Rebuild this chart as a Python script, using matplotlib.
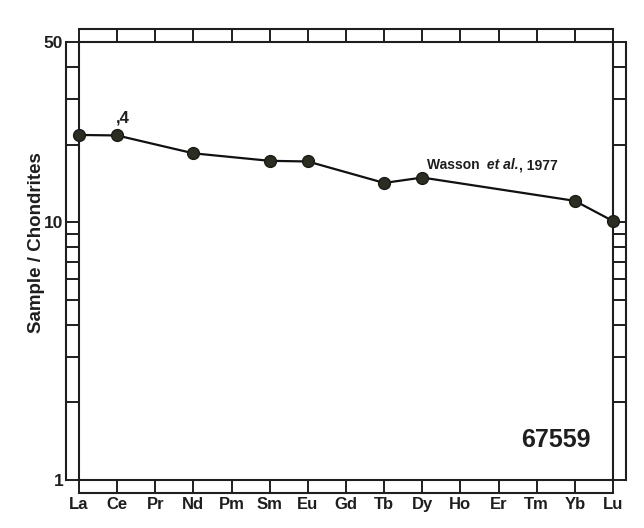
import numpy as np
import matplotlib
matplotlib.use('Agg')
import matplotlib.pyplot as plt
from matplotlib.lines import Line2D
from matplotlib.ticker import FixedLocator, NullFormatter

# REE pattern for 67559 (Wasson et al., 1977)
elements = ['La', 'Ce', 'Pr', 'Nd', 'Pm', 'Sm', 'Eu', 'Gd', 'Tb', 'Dy', 'Ho', 'Er', 'Tm', 'Yb', 'Lu']
meas_elements = ['La', 'Ce', 'Nd', 'Sm', 'Eu', 'Tb', 'Dy', 'Yb', 'Lu']
meas_values = [21.8, 21.7, 18.5, 17.3, 17.2, 14.2, 14.9, 12.1, 10.1]

major_y = [1, 10, 50]
minor_y = [2, 3, 4, 5, 6, 7, 8, 9, 20, 30, 40]

plt.rcParams['font.family'] = ['Liberation Sans', 'DejaVu Sans']
ink = '#1e1e1e'

W, H = 644, 528
fig = plt.figure(figsize=(W / 100, H / 100), dpi=100)
x0, x1, y0, y1 = 79, 613, 42, 480   # axes box in pixels (top-left origin)
ax = fig.add_axes([x0 / W, 1 - y1 / H, (x1 - x0) / W, (y1 - y0) / H])

xpos = [elements.index(e) for e in meas_elements]
ax.plot(xpos, meas_values, color='#111111', lw=1.6, marker='o', ms=8.5,
        mfc='#2b2d22', mec='#1a1a14', mew=1, clip_on=False, zorder=3)

ax.set_yscale('log')
ax.set_ylim(1, 50)
ax.set_xlim(0, len(elements) - 1)

strip = 13 * 72 / 100  # strip width in points
ax.set_xticks(range(len(elements)))
ax.set_xticklabels(elements, fontsize=12, fontweight='bold')
ax.yaxis.set_major_locator(FixedLocator(major_y))
ax.set_yticklabels([str(v) for v in major_y], fontsize=12.5, fontweight='bold')
ax.yaxis.set_minor_locator(FixedLocator(minor_y))
ax.yaxis.set_minor_formatter(NullFormatter())
ax.tick_params(axis='both', which='both', direction='out', length=strip, width=1.4,
               top=True, right=True, pad=2, color=ink, labelcolor=ink)
ax.tick_params(axis='x', pad=3)
for s in ax.spines.values():
    s.set_linewidth(1.5)
    s.set_color(ink)

# outer lines of the tick strips
lw = 1.5
fig.add_artist(Line2D([66 / W, 66 / W], [1 - y1 / H, 1 - y0 / H], lw=lw, color=ink))
fig.add_artist(Line2D([626 / W, 626 / W], [1 - y1 / H, 1 - y0 / H], lw=lw, color=ink))
fig.add_artist(Line2D([x0 / W, x1 / W], [1 - 29 / H, 1 - 29 / H], lw=lw, color=ink))
fig.add_artist(Line2D([x0 / W, x1 / W], [1 - 493 / H, 1 - 493 / H], lw=lw, color=ink))

ax.set_ylabel('Sample / Chondrites', fontsize=13.5, fontweight='bold', color=ink)
ax.yaxis.set_label_coords(-0.064, 0.543)

ax.annotate(',4', xy=(1, 21.7), xytext=(-1, 7), textcoords='offset points',
            fontsize=12, fontweight='bold', ha='left', va='bottom', color=ink)

t1 = ax.text(9.12, 15.6, 'Wasson ', fontsize=10, fontweight='bold',
             ha='left', va='bottom', color=ink)
t2 = ax.annotate(' et al.', xy=(1, 0), xycoords=t1, fontsize=10, fontweight='bold',
                 style='italic', ha='left', va='bottom', color=ink)
ax.annotate(', 1977', xy=(1, 0), xycoords=t2, fontsize=10, fontweight='bold',
            ha='left', va='bottom', color=ink)

ax.text(12.5, 1.43, '67559', fontsize=18, fontweight='bold', ha='center', va='center', color=ink)

fig.savefig('out.png', dpi=100)
